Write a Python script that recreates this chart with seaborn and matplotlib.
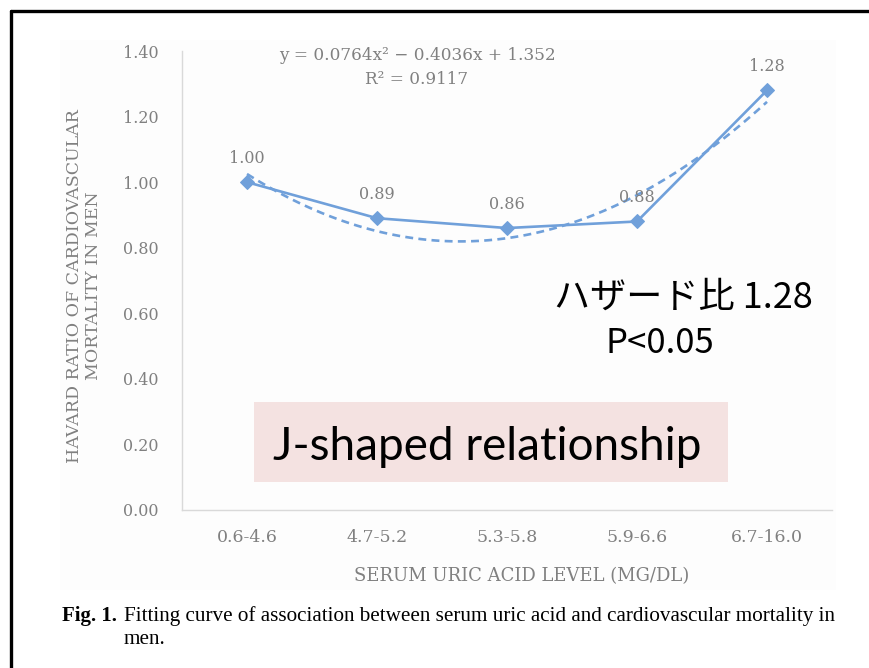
import matplotlib
matplotlib.use('Agg')
import matplotlib.pyplot as plt
from matplotlib.patches import Rectangle
from matplotlib.lines import Line2D
import seaborn as sns

# data
groups = ['0.6-4.6', '4.7-5.2', '5.3-5.8', '5.9-6.6', '6.7-16.0']
hazard = [1.00, 0.89, 0.86, 0.88, 1.28]
pos = [0, 1, 2, 3, 4]
yticks = [0.0, 0.2, 0.4, 0.6, 0.8, 1.0, 1.2, 1.4]

blue = '#70a0da'
grey = '#808080'
serif = 'DejaVu Serif'

sns.set_theme(style='white')
plt.rcParams['font.family'] = ['DejaVu Serif', 'Noto Sans CJK JP']

W, H = 870, 668
fig = plt.figure(figsize=(8.7, 6.68), dpi=100)

def fx(px):
    return px / W

def fy(py):
    return 1 - py / H

# faint chart-area background
fig.add_artist(Rectangle((fx(60), fy(590)), fx(836) - fx(60), fy(40) - fy(590),
                         transform=fig.transFigure, facecolor='#fdfdfd', edgecolor='none', zorder=0))

ax = fig.add_axes([fx(182), fy(510), fx(832) - fx(182), fy(51) - fy(510)])
ax.set_facecolor('none')

# main series
sns.lineplot(x=pos, y=hazard, ax=ax, color=blue, lw=1.9, marker='D', markersize=7,
             markeredgecolor=blue, zorder=3)
# polynomial trendline (order 2 fit)
sns.regplot(x=pos, y=hazard, ax=ax, order=2, ci=None, scatter=False, truncate=True,
            line_kws={'color': blue, 'lw': 1.9, 'ls': (0, (3, 2))})

for x, v in zip(pos, hazard):
    ax.text(x, v + 0.073, f'{v:.2f}', ha='center', va='center', fontsize=11.5,
            color=grey, family=serif)

ax.set_xlim(-0.5, 4.5)
ax.set_ylim(0, 1.4)
ax.set_yticks(yticks)
ax.set_yticklabels([f'{t:.2f}' for t in yticks])
ax.set_xticks(pos)
ax.set_xticklabels(groups)
ax.tick_params(axis='y', length=0, labelsize=11.5, labelcolor=grey, pad=17)
ax.tick_params(axis='x', length=0, labelsize=12.5, labelcolor=grey, pad=14)
ax.set_xlabel('')
ax.set_ylabel('')
for s in ['top', 'right']:
    ax.spines[s].set_visible(False)
for s in ['left', 'bottom']:
    ax.spines[s].set_color('#d9d9d9')
    ax.spines[s].set_linewidth(1.0)

# axis titles
fig.text(fx(84), fy(286), 'HAVARD RATIO OF CARDIOVASCULAR\nMORTALITY IN MEN', rotation=90,
         ha='center', va='center', multialignment='center', fontsize=12.5, color=grey,
         family=serif, linespacing=1.2)
fig.text(fx(522), fy(576), 'SERUM URIC ACID LEVEL (MG/DL)', ha='center', va='center',
         fontsize=13, color=grey, family=serif)

# trendline equation
fig.text(fx(417), fy(56), 'y = 0.0764x² − 0.4036x + 1.352', ha='center', va='center',
         fontsize=12.2, color=grey, family=serif)
fig.text(fx(417), fy(80), 'R² = 0.9117', ha='center', va='center',
         fontsize=12.2, color=grey, family=serif)

# annotations
fig.text(fx(683), fy(298), 'ハザード比 1.28', ha='center', va='center', fontsize=26,
         color='black', family=['Noto Sans CJK JP', 'DejaVu Sans'])
fig.text(fx(660), fy(344), 'P<0.05', ha='center', va='center', fontsize=25,
         color='black', family=['Noto Sans CJK JP', 'DejaVu Sans'])

fig.add_artist(Rectangle((fx(254), fy(482)), fx(728) - fx(254), fy(402) - fy(482),
                         transform=fig.transFigure, facecolor='#f4e2e1', edgecolor='none', zorder=1))
fig.text(fx(487), fy(447), 'J-shaped relationship', ha='center', va='center', fontsize=33,
         color='black', family='Lato', zorder=2)

# caption
fig.text(fx(62), fy(616), 'Fig. 1.', ha='left', va='center', fontsize=15,
         fontweight='bold', family='Liberation Serif', color='black')
fig.text(fx(124), fy(616),
         'Fitting curve of association between serum uric acid and cardiovascular mortality in',
         ha='left', va='center', fontsize=15.2, family='Liberation Serif', color='black')
fig.text(fx(124), fy(640), 'men.', ha='left', va='center', fontsize=15.2,
         family='Liberation Serif', color='black')

# black frame on top and left
fig.add_artist(Line2D([fx(11), 1.0], [fy(11), fy(11)], transform=fig.transFigure,
                      color='black', lw=2.4))
fig.add_artist(Line2D([fx(11), fx(11)], [0.0, fy(11)], transform=fig.transFigure,
                      color='black', lw=2.4))

fig.savefig('out.png', dpi=100)
